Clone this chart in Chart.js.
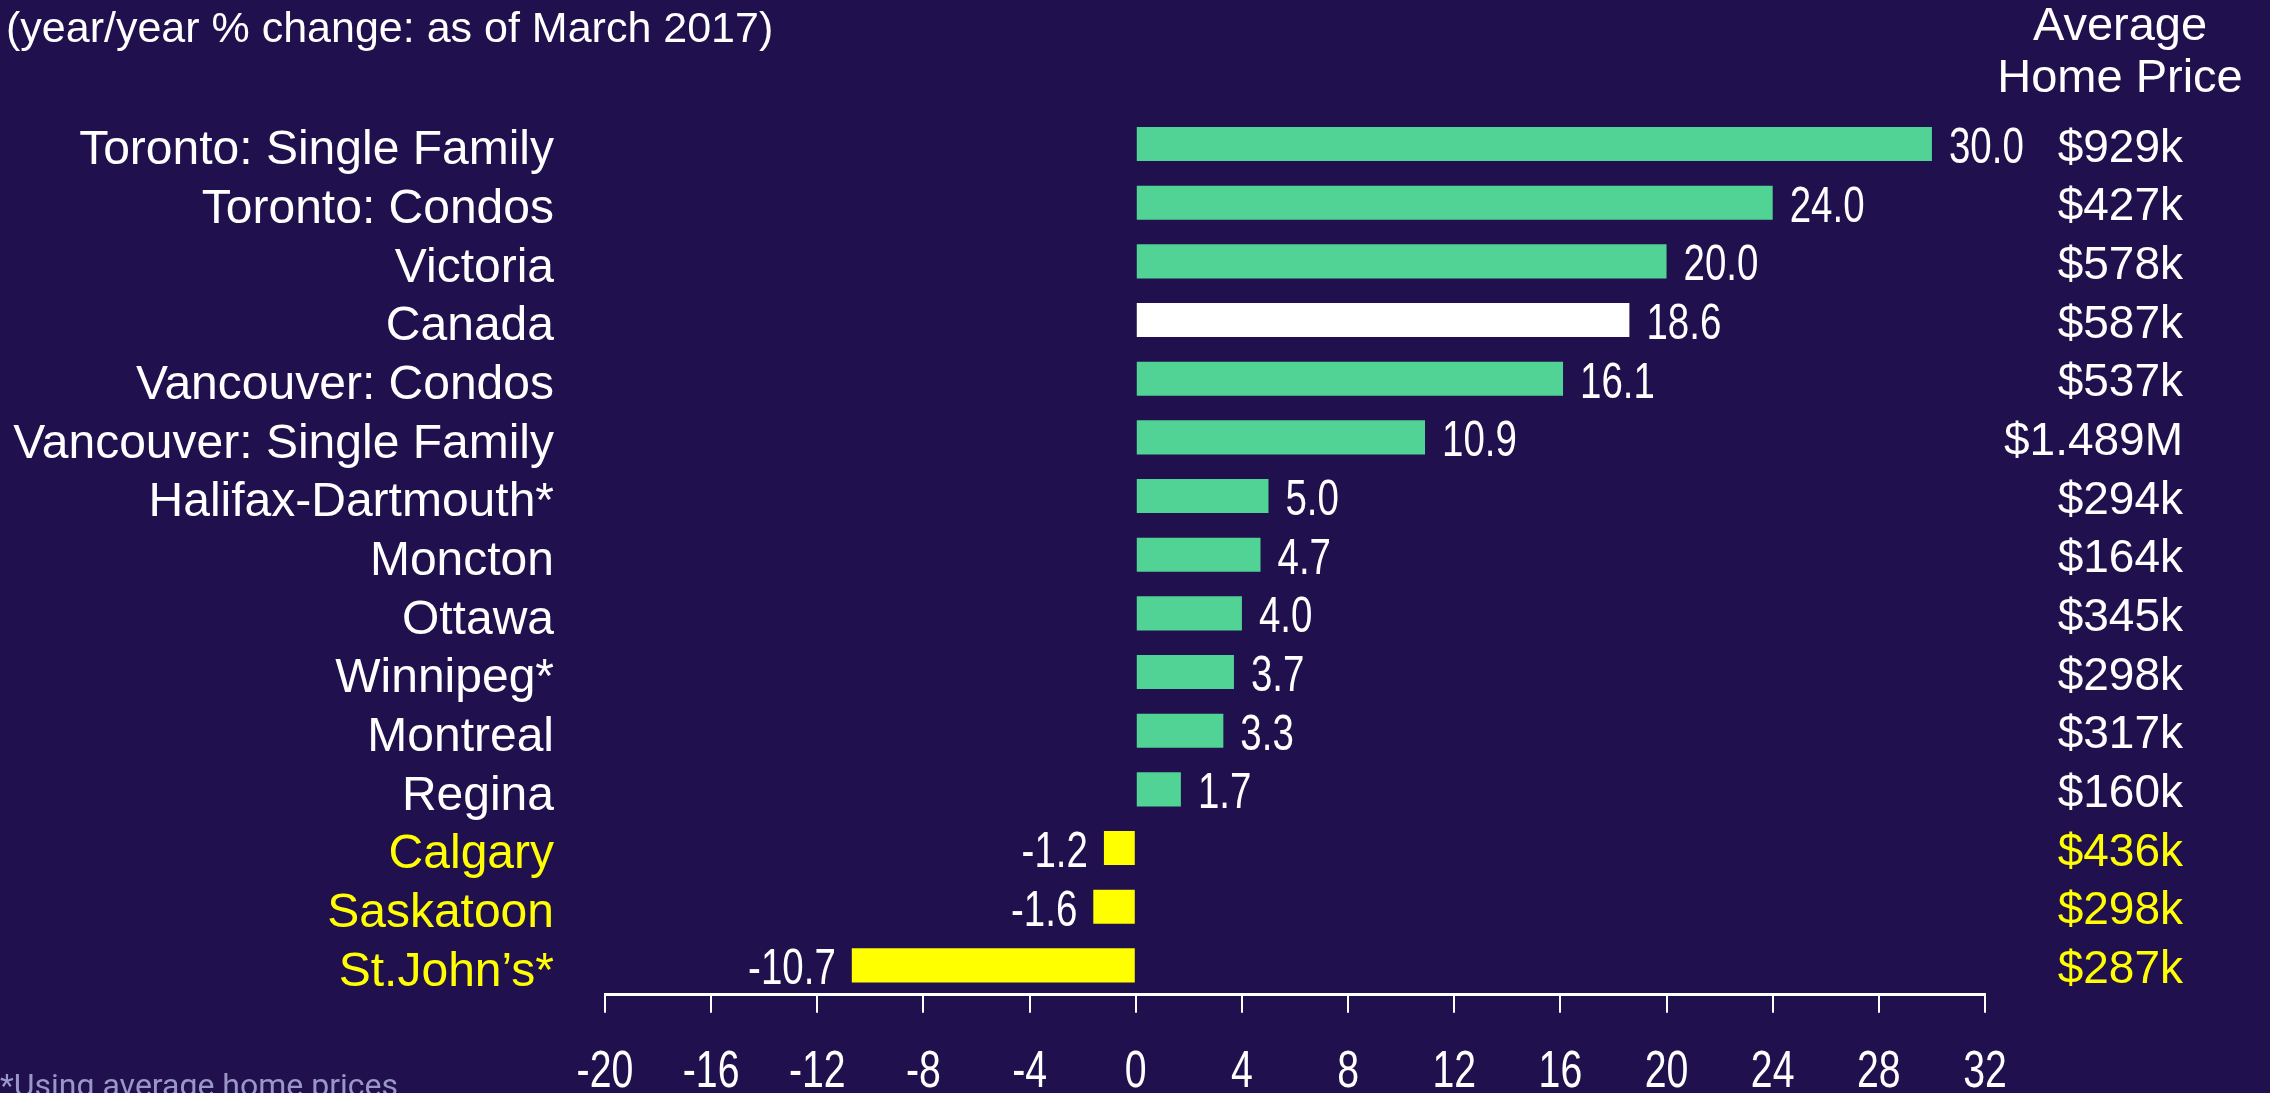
<!DOCTYPE html>
<html>
<head>
<meta charset="utf-8">
<script src="https://cdn.jsdelivr.net/npm/chart.js@4"></script>
<style>
  html, body { margin: 0; padding: 0; background: #20104d; overflow: hidden; }
  canvas { display: block; }
</style>
</head>
<body>
<canvas id="chart" width="2270" height="1093"></canvas>
<script>
// data
const cities = ['Toronto: Single Family', 'Toronto: Condos', 'Victoria', 'Canada', 'Vancouver: Condos',
  'Vancouver: Single Family', 'Halifax-Dartmouth*', 'Moncton', 'Ottawa', 'Winnipeg*', 'Montreal',
  'Regina', 'Calgary', 'Saskatoon', 'St.John\u2019s*'];
const changes = [30.0, 24.0, 20.0, 18.6, 16.1, 10.9, 5.0, 4.7, 4.0, 3.7, 3.3, 1.7, -1.2, -1.6, -10.7];
const prices = ['$929k', '$427k', '$578k', '$587k', '$537k', '$1.489M', '$294k', '$164k', '$345k',
  '$298k', '$317k', '$160k', '$436k', '$298k', '$287k'];
const xTicks = { min: -20, max: 32, step: 4 };
const highlight = 'Canada';

const BG = '#20104d';
const GREEN = '#50d394';
const YELLOW = '#ffff00';
const WHITE = '#ffffff';
const SANS = '"Liberation Sans", Arial, sans-serif';

const barColors = cities.map((c, i) => c === highlight ? WHITE : (changes[i] < 0 ? YELLOW : GREEN));
const textColor = ctx => changes[ctx.index] < 0 ? YELLOW : WHITE;

// narrow digits like the original, squeezed horizontally
function narrowText(ctx, text, x, y, size, align) {
  const sx = 0.77;
  ctx.save();
  ctx.font = size + 'px ' + SANS;
  ctx.fillStyle = WHITE;
  ctx.textBaseline = 'alphabetic';
  ctx.textAlign = align;
  ctx.translate(x, y);
  ctx.scale(sx, 1);
  ctx.fillText(text, 0, 0);
  ctx.restore();
}

const extras = {
  id: 'extras',
  afterDatasetsDraw(chart) {
    const ctx = chart.ctx;
    const meta = chart.getDatasetMeta(0);
    meta.data.forEach((bar, i) => {
      const v = changes[i];
      const txt = v.toFixed(1);
      if (v >= 0) narrowText(ctx, txt, bar.x + 17, bar.y + 19, 50, 'left');
      else narrowText(ctx, txt, bar.x - 16, bar.y + 19, 50, 'right');
    });
  },
  afterDraw(chart) {
    const ctx = chart.ctx;
    const xs = chart.scales.x;
    xs.ticks.forEach(t => {
      narrowText(ctx, String(t.value), xs.getPixelForValue(t.value), 1087, 51, 'center');
    });

    ctx.save();
    ctx.fillStyle = WHITE;
    ctx.textBaseline = 'alphabetic';
    ctx.font = '43px ' + SANS;
    ctx.textAlign = 'left';
    ctx.fillText('(year/year % change: as of March 2017)', 6, 42);

    ctx.font = '47px ' + SANS;
    ctx.textAlign = 'center';
    ctx.fillText('Average', 2120, 40);
    ctx.fillText('Home Price', 2120, 92);

    ctx.font = '32px Roboto, sans-serif';
    ctx.fillStyle = '#9b96c8';
    ctx.textAlign = 'left';
    ctx.fillText('*Using average home prices', 0, 1096);
    ctx.restore();
  }
};

new Chart(document.getElementById('chart'), {
  type: 'bar',
  data: {
    labels: cities,
    datasets: [{
      data: changes,
      backgroundColor: barColors,
      borderWidth: 0,
      categoryPercentage: 1,
      barPercentage: 0.58
    }]
  },
  options: {
    indexAxis: 'y',
    responsive: false,
    animation: false,
    layout: { padding: { top: 114.7, left: 0, right: 87, bottom: 0 } },
    plugins: {
      legend: { display: false },
      tooltip: { enabled: false }
    },
    scales: {
      x: {
        type: 'linear',
        min: xTicks.min,
        max: xTicks.max,
        ticks: { stepSize: xTicks.step, display: false },
        grid: { drawOnChartArea: false, drawTicks: true, tickLength: 18, color: WHITE, lineWidth: 2 },
        border: { color: WHITE, width: 3 },
        afterFit: s => { s.height = 98.3; }
      },
      y: {
        grid: { display: false },
        border: { display: false },
        ticks: {
          autoSkip: false,
          padding: 43,
          labelOffset: 7,
          color: textColor,
          font: { family: SANS, size: 48 }
        },
        afterFit: s => { s.width = 605; }
      },
      y2: {
        type: 'category',
        labels: prices,
        position: 'right',
        offset: true,
        grid: { display: false },
        border: { display: false },
        ticks: {
          autoSkip: false,
          crossAlign: 'far',
          padding: 19,
          labelOffset: 5,
          color: textColor,
          font: { family: SANS, size: 46 }
        },
        afterFit: s => { s.width = 198; }
      }
    }
  },
  plugins: [extras]
});
</script>
</body>
</html>
